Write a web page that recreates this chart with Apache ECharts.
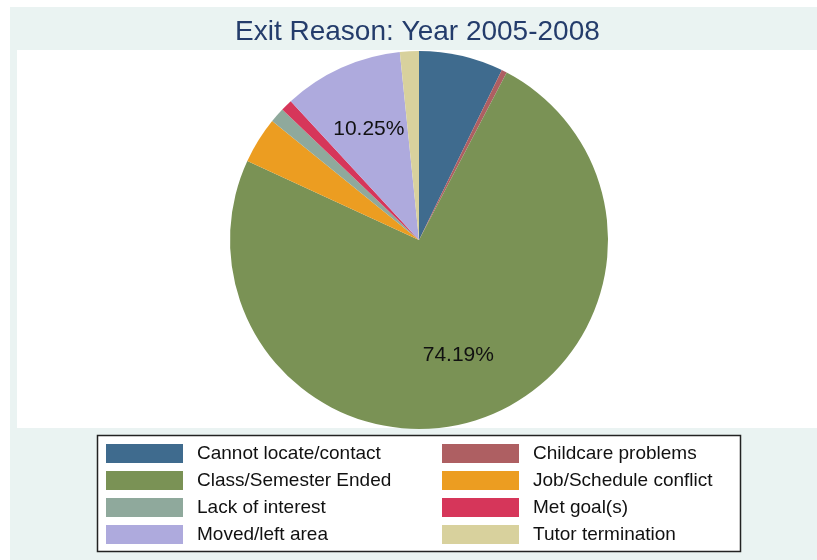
<!DOCTYPE html>
<html>
<head>
<meta charset="utf-8">
<script src="https://cdn.jsdelivr.net/npm/echarts@6/dist/echarts.min.js"></script>
<style>
html,body{margin:0;padding:0;background:#fff;}
#chart{width:817px;height:560px;}
</style>
</head>
<body>
<div id="chart"></div>
<script>
const titleText = 'Exit Reason: Year 2005-2008';
const categories = ['Cannot locate/contact','Childcare problems','Class/Semester Ended','Job/Schedule conflict','Lack of interest','Met goal(s)','Moved/left area','Tutor termination'];
const values = [7.22, 0.46, 74.19, 3.97, 1.29, 1.00, 10.25, 1.62];
const colors = ['#3f6b8e','#ae5f62','#7a9255','#ec9d21','#8fa99c','#d6365a','#aeaadd','#d8d19d'];
const legendLeftCol = ['Cannot locate/contact','Class/Semester Ended','Lack of interest','Moved/left area'];
const legendRightCol = ['Childcare problems','Job/Schedule conflict','Met goal(s)','Tutor termination'];

const FONT = '"Liberation Sans", Arial, sans-serif';
const pieData = categories.map((c,i)=>({name:c, value:values[i], itemStyle:{color:colors[i]}}));
const labelData = categories.map((c,i)=>({name:c, value:values[i], label:{show: values[i] > 10}}));

const chart = echarts.init(document.getElementById('chart'), null, {renderer:'canvas'});
const legendCommon = {
  orient:'vertical', top:444, padding:0, itemWidth:77, itemHeight:19, itemGap:8, icon:'rect',
  selectedMode:false,
  textStyle:{fontFamily:FONT, fontSize:19, color:'#111', padding:[0,0,0,9]}
};
chart.setOption({
  animation:false,
  backgroundColor:'#ffffff',
  title:{text:titleText, left:235, top:18, padding:0,
    textStyle:{fontFamily:FONT, fontSize:28, fontWeight:'normal', color:'#243c6b'}},
  graphic:[
    {type:'rect', z:-10, silent:true, shape:{x:10,y:7,width:807,height:553}, style:{fill:'#eaf3f2'}},
    {type:'rect', z:-9, silent:true, shape:{x:17,y:50,width:800,height:378}, style:{fill:'#ffffff'}},
    {type:'rect', z:-8, silent:true, shape:{x:97.5,y:435.5,width:643,height:116}, style:{fill:'#ffffff', stroke:'#222', lineWidth:1.5}}
  ],
  legend:[
    Object.assign({left:106, data:legendLeftCol}, legendCommon),
    Object.assign({left:442, data:legendRightCol}, legendCommon)
  ],
  series:[
    {type:'pie', center:[419,240], radius:189, startAngle:90, clockwise:true,
     avoidLabelOverlap:false, minAngle:0, silent:true,
     itemStyle:{borderWidth:0},
     label:{show:false}, labelLine:{show:false},
     emphasis:{disabled:true},
     data:pieData},
    {type:'pie', center:[419,240], radius:[49,189], startAngle:90, clockwise:true,
     avoidLabelOverlap:false, silent:true, z:5,
     itemStyle:{color:'rgba(0,0,0,0)', borderWidth:0},
     label:{position:'inside', fontFamily:FONT, fontSize:21, color:'#111',
       formatter: p => p.value.toFixed(2) + '%'},
     labelLine:{show:false},
     emphasis:{disabled:true},
     data:labelData}
  ]
});
</script>
</body>
</html>
